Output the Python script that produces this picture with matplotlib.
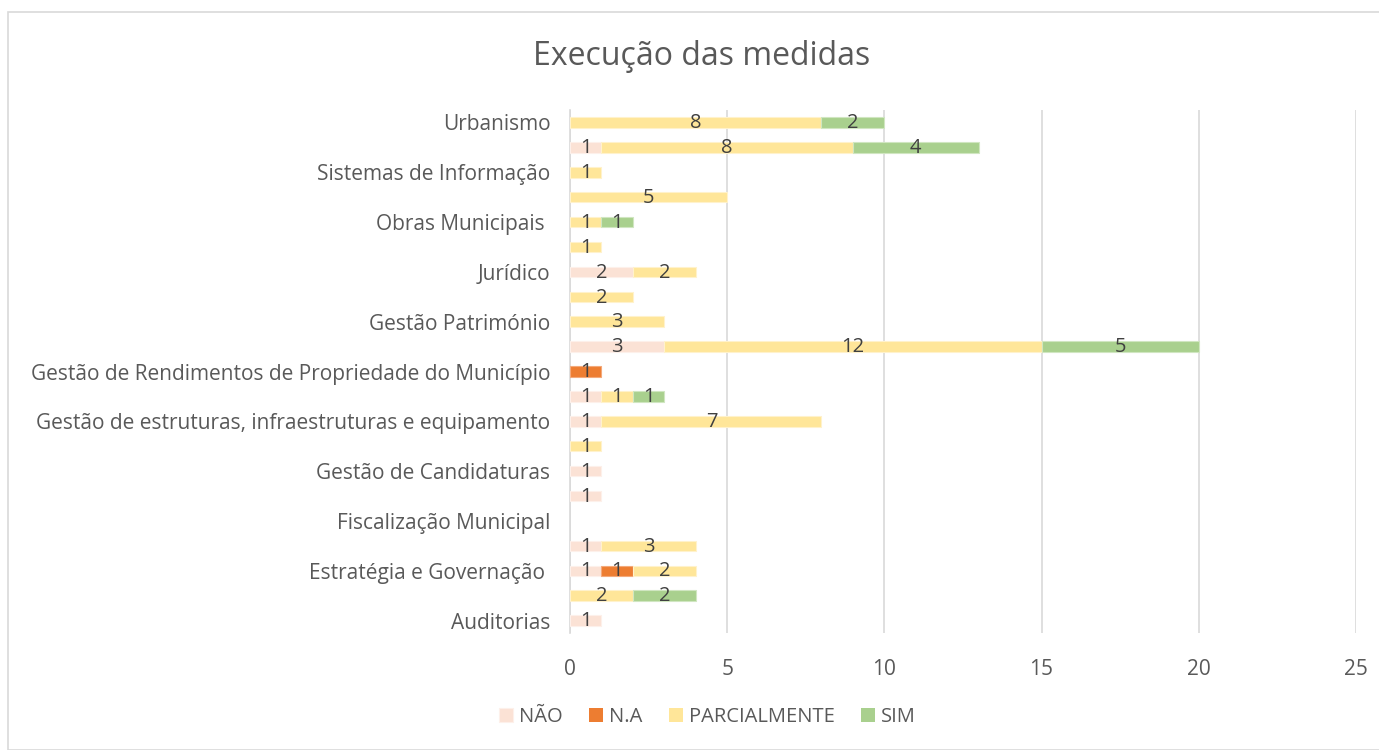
import numpy as np
import matplotlib.pyplot as plt
from matplotlib.patches import Rectangle

plt.rcParams['font.family'] = ['Open Sans', 'DejaVu Sans']

# categories from bottom to top (every other label is hidden, as in the original)
categories = [
    "Auditorias", "Comunicação", "Estratégia e Governação ", "Finanças",
    "Fiscalização Municipal", "Gestão Administrativa", "Gestão de Candidaturas",
    "Gestão de Contratos", "Gestão de estruturas, infraestruturas e equipamento",
    "Gestão de Recursos Humanos", "Gestão de Rendimentos de Propriedade do Município",
    "Gestão Financeira", "Gestão Património", "Habitação", "Jurídico",
    "Mobilidade", "Obras Municipais ", "Proteção Civil", "Sistemas de Informação",
    "Social", "Urbanismo",
]
show_label = [i % 2 == 0 for i in range(len(categories))]

nao = [1, 0, 1, 1, 0, 1, 1, 0, 1, 1, 0, 3, 0, 0, 2, 0, 0, 0, 0, 1, 0]
na = [0, 0, 1, 0, 0, 0, 0, 0, 0, 0, 1, 0, 0, 0, 0, 0, 0, 0, 0, 0, 0]
parcial = [0, 2, 2, 3, 0, 0, 0, 1, 7, 1, 0, 12, 3, 2, 2, 1, 1, 5, 1, 8, 8]
sim = [0, 2, 0, 0, 0, 0, 0, 0, 0, 1, 0, 5, 0, 0, 0, 0, 1, 0, 0, 4, 2]

series = [("NÃO", nao, "#FBE2D5"), ("N.A", na, "#ED7D31"),
          ("PARCIALMENTE", parcial, "#FFE699"), ("SIM", sim, "#A9D08E")]
edges = ["#FDF0EA", "#F4A97A", "#FFF2CC", "#D0E6C1"]

fig = plt.figure(figsize=(13.79, 7.5), dpi=100)
ax = fig.add_axes([0.4133, 0.156, 0.5700, 0.6973])

y = np.arange(len(categories))
left = np.zeros(len(categories))
for (name, vals, col), ec in zip(series, edges):
    vals = np.array(vals, dtype=float)
    lws = [0.8 if v > 0 else 0 for v in vals]
    bars = ax.barh(y, vals, left=left, height=0.42, color=col, edgecolor=ec,
                   linewidth=lws, label=name, zorder=3)
    for b, v in zip(bars, vals):
        if v > 0:
            ax.text(b.get_x() + b.get_width() / 2, b.get_y() + b.get_height() / 2 - 0.03,
                    f"{int(v)}", ha="center", va="center", fontsize=14.5,
                    color="#404040", zorder=4)
    left += vals

ax.set_xlim(0, 25)
ax.set_ylim(-0.5, len(categories) - 0.5)
ax.set_xticks(range(0, 26, 5))
ax.set_yticks(y)
ax.set_yticklabels([c if s else "" for c, s in zip(categories, show_label)])
ax.tick_params(axis="both", length=0, labelsize=15, colors="#595959")
ax.tick_params(axis="x", pad=19)
ax.tick_params(axis="y", pad=14)
ax.grid(axis="x", color="#D9D9D9", linewidth=1.2, zorder=0)
for s in ["top", "right", "bottom"]:
    ax.spines[s].set_visible(False)
ax.spines["left"].set_color("#D9D9D9")
ax.spines["left"].set_linewidth(1.2)

fig.text(0.509, 0.925, "Execução das medidas", ha="center", va="center",
         fontsize=23, color="#595959")

fig.legend(loc="center", bbox_to_anchor=(0.513, 0.044), ncol=4, frameon=False,
           fontsize=14.5, labelcolor="#595959", handlelength=0.7, handleheight=0.7,
           handletextpad=0.3, columnspacing=1.3)

fig.patches.append(Rectangle((0.006, 0.0), 1.2, 0.984, transform=fig.transFigure,
                             fill=False, edgecolor="#D9D9D9", linewidth=1.2))

fig.savefig("out.png", dpi=100)
